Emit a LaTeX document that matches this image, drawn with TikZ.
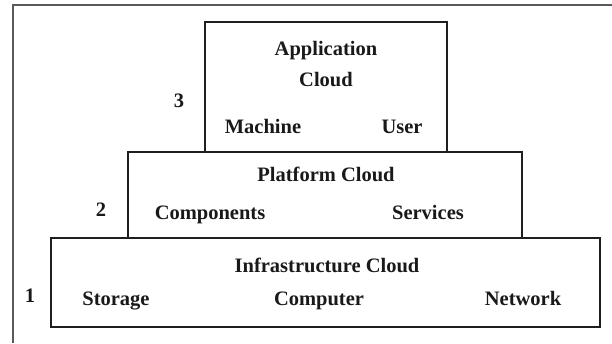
\documentclass[tikz,border=0pt]{standalone}
\usepackage{fontspec}
\setmainfont{Liberation Serif}
\begin{document}
\begin{tikzpicture}[x=1pt,y=-1pt,
  layer/.style={draw=black!88,line width=1.5pt},
  lbl/.style={font=\fontsize{20.5}{23}\selectfont\bfseries,text=black!90,inner sep=0pt,anchor=base},
  frameline/.style={draw=black!65,line width=1.2pt}]
\useasboundingbox (0,0) rectangle (612,343);
\draw[frameline] (13,343) -- (13,5) -- (612,5);
\draw[layer] (205,22) rectangle (447,152);
\draw[layer] (128,152) rectangle (522,238);
\draw[layer] (51,238) rectangle (600,327);
\node[lbl] (app) at (326,55) {Application};
\node[lbl] (appc) at (326,86) {Cloud};
\node[lbl] (n3) at (179,107) {3};
\node[lbl] (mach) at (263,133) {Machine};
\node[lbl] (user) at (402,133) {User};
\node[lbl] (plat) at (326,181) {Platform Cloud};
\node[lbl] (n2) at (101,216) {2};
\node[lbl] (comp) at (210,219) {Components};
\node[lbl] (serv) at (428,219) {Services};
\node[lbl] (infra) at (327,272) {Infrastructure Cloud};
\node[lbl] (n1) at (30,302) {1};
\node[lbl] (stor) at (116,305) {Storage};
\node[lbl] (cmp) at (319,305) {Computer};
\node[lbl] (net) at (523,305) {Network};
\end{tikzpicture}
\end{document}
